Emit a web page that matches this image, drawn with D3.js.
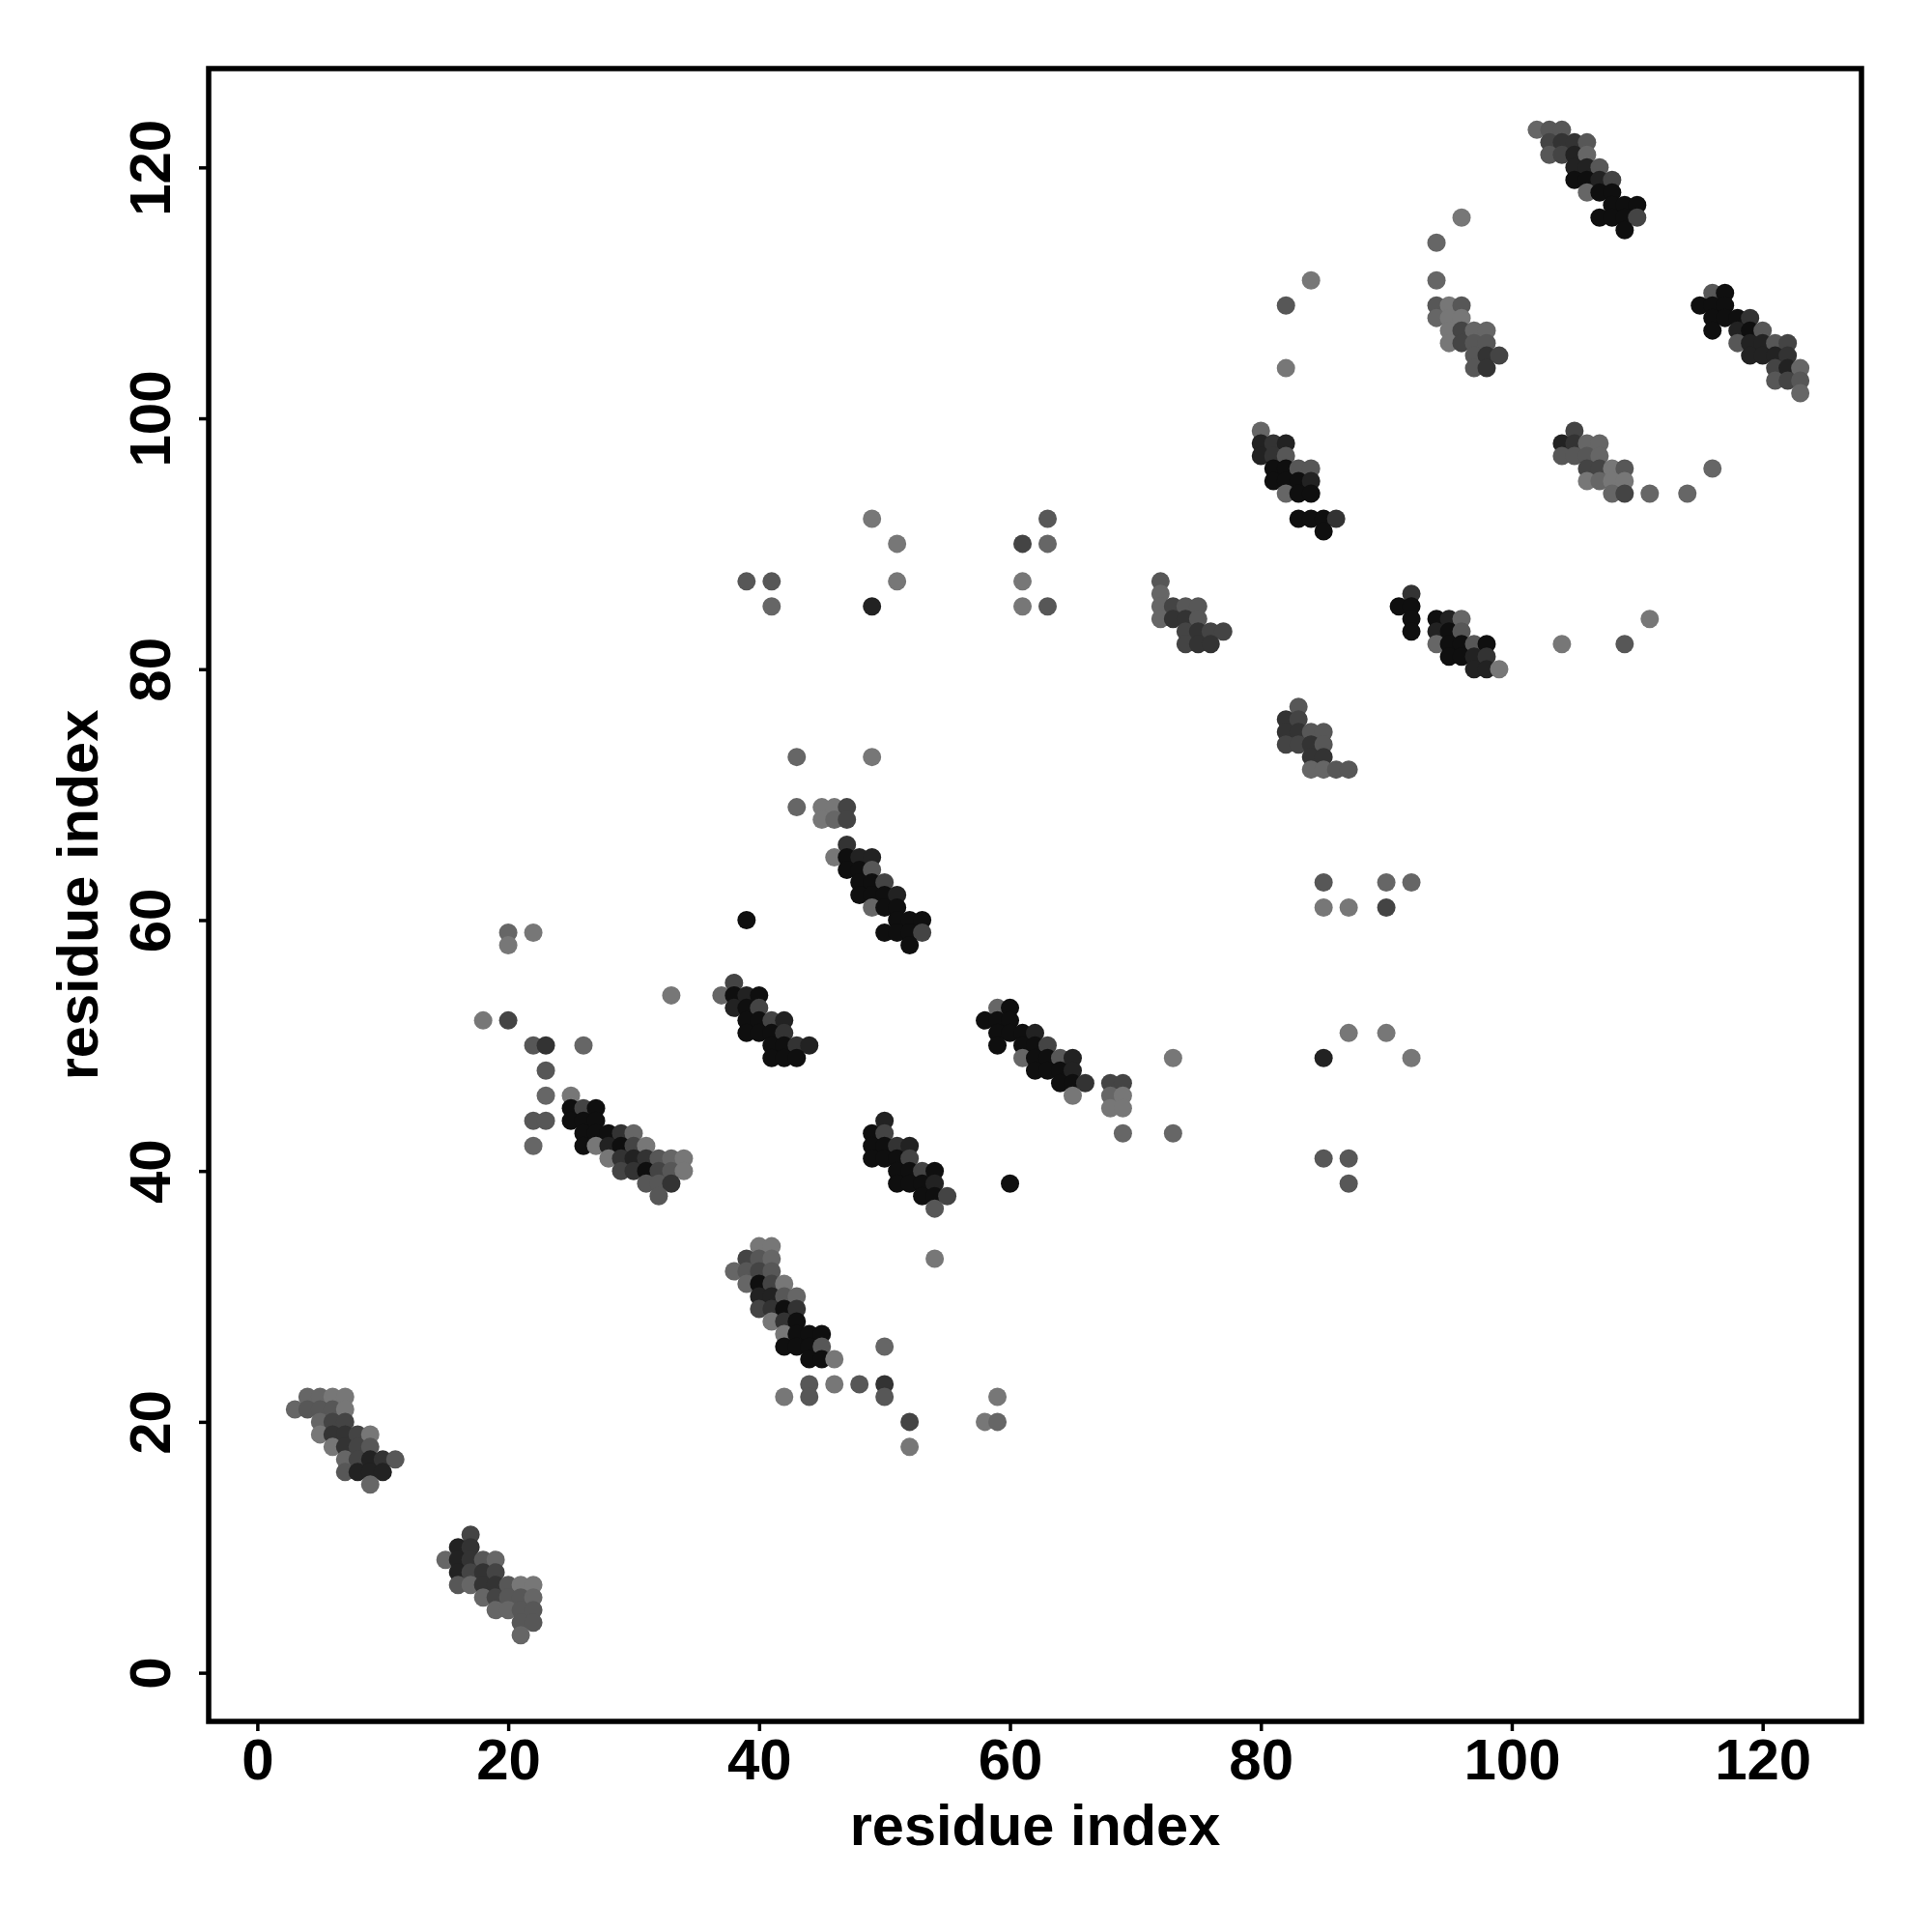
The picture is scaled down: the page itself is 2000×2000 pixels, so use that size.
<!DOCTYPE html>
<html>
<head>
<meta charset="utf-8">
<script src="https://cdn.jsdelivr.net/npm/d3@7"></script>
<style>
html,body{margin:0;padding:0;background:#fff;}
svg{display:block;}
</style>
</head>
<body>
<svg id="chart" width="2000" height="2000"></svg>
<script>
// Contact points: [residue i, residue j, shade level 0 (darkest) .. 6 (lightest)]
const clusterA = [[4,22,5],[5,22,5],[6,22,6],[7,22,6],[3,21,5],[4,21,4],[5,21,4],[6,21,4],[7,21,6],
 [5,20,5],[6,20,3],[7,20,3],[5,19,6],[6,19,2],[7,19,2],[8,19,3],[9,19,6],[6,18,6],[7,18,2],[8,18,3],[9,18,4],
 [7,17,5],[8,17,3],[9,17,1],[10,17,2],[11,17,4],[7,16,4],[8,16,1],[9,16,1],[10,16,1],[9,15,5]];
const clusterB = [[17,11,3],[16,10,1],[17,10,2],[15,9,5],[16,9,1],[17,9,2],[18,9,4],[19,9,5],
 [16,8,1],[17,8,3],[18,8,2],[19,8,3],[16,7,4],[17,7,5],[18,7,2],[19,7,2],[20,7,4],[21,7,6],[22,7,6],
 [18,6,5],[19,6,3],[20,6,4],[21,6,4],[22,6,5],[19,5,5],[20,5,5],[21,5,4],[22,5,4],[21,4,4],[22,4,4],[21,3,5]];
const clusterC = [[20,59,5],[20,58,6],[22,59,6],[33,54,6],[18,52,6],[20,52,3],[22,50,4],[23,50,2],[26,50,5],
 [23,48,4],[23,46,5],[25,46,6],[25,45,0],[26,45,3],[27,45,0],[22,44,4],[23,44,4],[25,44,0],[26,44,0],[27,44,0],
 [26,43,0],[27,43,0],[28,43,0],[29,43,2],[30,43,5],[22,42,5],[26,42,0],[27,42,6],[28,42,1],[29,42,0],[30,42,3],[31,42,6],
 [28,41,6],[29,41,2],[30,41,1],[31,41,2],[32,41,4],[33,41,5],[34,41,6],[29,40,3],[30,40,2],[31,40,0],[32,40,3],[33,40,4],[34,40,6],
 [31,39,4],[32,39,4],[33,39,2],[32,38,4]];
const clusterD = [[40,34,6],[41,34,6],[39,33,3],[40,33,4],[41,33,5],[54,33,6],[38,32,5],[39,32,4],[40,32,3],[41,32,4],
 [39,31,5],[40,31,0],[41,31,3],[42,31,6],[40,30,1],[41,30,1],[42,30,4],[43,30,5],[40,29,3],[41,29,2],[42,29,0],[43,29,2],
 [41,28,6],[42,28,2],[43,28,0],[42,27,6],[43,27,0],[44,27,0],[45,27,0],[42,26,0],[43,26,0],[44,26,0],[45,26,4],[50,26,5],
 [44,25,0],[45,25,0],[46,25,6],[44,23,4],[46,23,6],[48,23,4],[50,23,2],[42,22,6],[44,22,4],[50,22,4],[59,22,6],
 [52,20,3],[58,20,6],[59,20,5],[52,18,6]];
const clusterE = [[38,55,3],[37,54,5],[38,54,0],[39,54,1],[40,54,0],[38,53,1],[39,53,0],[40,53,3],
 [39,52,0],[40,52,0],[41,52,3],[42,52,1],[39,51,0],[40,51,0],[41,51,0],[42,51,2],[41,50,0],[42,50,0],[43,50,2],[44,50,1],
 [41,49,0],[42,49,0],[43,49,0]];
const clusterF = [[43,73,5],[49,73,6],[43,69,5],[45,69,6],[46,69,6],[47,69,3],[45,68,6],[46,68,5],[47,68,3],[47,66,2],
 [46,65,6],[47,65,0],[48,65,1],[49,65,1],[47,64,0],[48,64,0],[49,64,4],[48,63,0],[49,63,0],[50,63,3],
 [48,62,0],[49,62,0],[50,62,0],[51,62,1],[49,61,5],[50,61,0],[51,61,0],[39,60,0],[51,60,0],[52,60,0],[53,60,0],
 [50,59,0],[51,59,0],[52,59,0],[53,59,3],[52,58,0]];
const clusterG = [[50,44,1],[49,43,0],[50,43,3],[49,42,0],[50,42,0],[51,42,2],[52,42,1],[49,41,0],[50,41,0],[51,41,0],[52,41,3],
 [51,40,0],[52,40,0],[53,40,3],[54,40,0],[51,39,0],[52,39,0],[53,39,0],[54,39,1],[53,38,0],[54,38,0],[55,38,3],[54,37,4]];
const clusterH = [[59,53,5],[60,53,0],[58,52,0],[59,52,0],[60,52,0],[59,51,0],[60,51,0],[61,51,0],[62,51,1],
 [59,50,0],[61,50,0],[62,50,0],[63,50,3],[61,49,5],[62,49,0],[63,49,0],[64,49,4],[65,49,1],[73,49,6],
 [62,48,0],[63,48,0],[64,48,0],[65,48,1],[64,47,0],[65,47,0],[66,47,2],[68,47,3],[69,47,3],
 [65,46,6],[68,46,5],[69,46,6],[68,45,6],[69,45,6],[69,43,5],[73,43,5],[60,39,0]];
const clusterI = [[39,87,4],[41,87,4],[41,85,5],[49,92,6],[51,90,6],[51,87,6],[49,85,1],
 [63,92,4],[61,90,3],[63,90,5],[61,87,6],[61,85,6],[63,85,4]];
const clusterJ = [[72,87,4],[72,86,5],[72,85,5],[73,85,3],[74,85,4],[75,85,4],[72,84,5],[73,84,2],[74,84,2],[75,84,4],
 [74,83,3],[75,83,2],[76,83,3],[77,83,3],[74,82,3],[75,82,2],[76,82,2]];
const clusterK = [[96,116,6],[94,114,5],[84,111,6],[82,109,4],[82,104,6],[94,111,5],
 [94,109,4],[95,109,6],[96,109,4],[94,108,5],[95,108,6],[96,108,6],[95,107,6],[96,107,3],[97,107,5],[98,107,5],
 [95,106,6],[96,106,3],[97,106,4],[98,106,4],[97,105,4],[98,105,2],[99,105,3],[97,104,4],[98,104,2],
 [80,99,5],[80,98,1],[81,98,2],[82,98,1],[80,97,1],[81,97,2],[82,97,4],[81,96,0],[82,96,0],[83,96,4],[84,96,4],
 [81,95,0],[82,95,0],[83,95,0],[84,95,1],[82,94,5],[83,94,0],[84,94,0],[83,92,0],[84,92,0],[85,92,0],[86,92,2],[85,91,0]];
const clusterL = [[83,77,4],[82,76,2],[83,76,3],[82,75,2],[83,75,2],[84,75,4],[85,75,4],[82,74,3],[83,74,3],[84,74,2],[85,74,4],
 [84,73,2],[85,73,2],[84,72,5],[85,72,5],[86,72,4],[87,72,4],[85,63,4],[90,63,5],[92,63,5],[85,61,6],[87,61,6],[90,61,3],
 [87,51,6],[90,51,6],[85,49,1],[92,49,6],[85,41,4],[87,41,4],[87,39,4]];
const clusterM = [[92,86,2],[91,85,0],[92,85,0],[92,84,0],[94,84,0],[95,84,1],[96,84,5],[92,83,0],[94,83,1],[95,83,0],[96,83,4],
 [94,82,5],[95,82,0],[96,82,0],[97,82,4],[98,82,0],[95,81,0],[96,81,0],[97,81,1],[98,81,2],[97,80,1],[98,80,1],[99,80,6],
 [111,84,6],[104,82,6],[109,82,4]];
const clusterO = [[105,99,3],[104,98,1],[105,98,2],[106,98,5],[107,98,5],[104,97,4],[105,97,4],[106,97,4],[107,97,5],
 [106,96,3],[107,96,3],[108,96,6],[109,96,4],[106,95,6],[107,95,5],[108,95,6],[109,95,6],
 [108,94,5],[109,94,3],[111,94,5],[114,94,5],[116,96,5]];
const clusterP = [[102,123,5],[103,123,4],[104,123,4],[103,122,3],[104,122,2],[105,122,2],[106,122,4],
 [103,121,4],[104,121,3],[105,121,1],[106,121,5],[105,120,1],[106,120,1],[107,120,4],
 [105,119,0],[106,119,0],[107,119,1],[108,119,3],[106,118,5],[107,118,0],[108,118,0],
 [108,117,0],[109,117,0],[110,117,0],[107,116,0],[108,116,0],[109,116,0],[110,116,3],[109,115,0]];
const clusterQ = [[116,110,4],[117,110,0],[115,109,0],[116,109,0],[117,109,0],[116,108,0],[117,108,0],[118,108,0],[119,108,2],
 [116,107,0],[118,107,1],[119,107,0],[120,107,4],[118,106,4],[119,106,1],[120,106,1],[121,106,4],[122,106,3],
 [119,105,1],[120,105,1],[121,105,1],[122,105,2],[121,104,3],[122,104,1],[123,104,5],
 [121,103,4],[122,103,3],[123,103,4],[123,102,5]];

const shadeColors = ["#0f0f0f","#222222","#333333","#444444","#575757","#666666","#777777"];
const xTicks = [0,20,40,60,80,100,120];
const yTicks = [0,20,40,60,80,100,120];
const xLabel = "residue index";
const yLabel = "residue index";

(function draw() {
  const points = [].concat(clusterA, clusterB, clusterC, clusterD, clusterE, clusterF, clusterG,
    clusterH, clusterI, clusterJ, clusterK, clusterL, clusterM, clusterO, clusterP, clusterQ);

  const svg = d3.select("#chart");
  const pL = 216, pR = 1927, pT = 71, pB = 1782;
  const dom = [-3.88, 127.88];
  const x = d3.scaleLinear().domain(dom).range([pL, pR]);
  const y = d3.scaleLinear().domain(dom).range([pB, pT]);
  const color = d3.scaleOrdinal().domain(d3.range(shadeColors.length)).range(shadeColors);
  const font = "'Liberation Sans', Arial, Helvetica, sans-serif";

  svg.append("g").selectAll("circle").data(points).join("circle")
    .attr("cx", d => x(d[0])).attr("cy", d => y(d[1]))
    .attr("r", 9.5).attr("fill", d => color(d[2]));

  svg.append("rect").attr("x", pL).attr("y", pT)
    .attr("width", pR - pL).attr("height", pB - pT)
    .attr("fill", "none").attr("stroke", "#000").attr("stroke-width", 5.5);

  const xAxis = svg.append("g").attr("transform", `translate(0,${pB})`)
    .call(d3.axisBottom(x).tickValues(xTicks).tickSize(10).tickFormat(d3.format("d")));
  xAxis.select(".domain").remove();
  xAxis.selectAll(".tick line").attr("stroke", "#000").attr("stroke-width", 3.5);
  xAxis.selectAll(".tick text").attr("y", 60).attr("dy", null)
    .attr("font-family", font).attr("font-weight", "bold").attr("font-size", 60).attr("fill", "#000");

  const yAxis = svg.append("g").attr("transform", `translate(${pL},0)`)
    .call(d3.axisLeft(y).tickValues(yTicks).tickSize(10).tickFormat(d3.format("d")));
  yAxis.select(".domain").remove();
  yAxis.selectAll(".tick line").attr("stroke", "#000").attr("stroke-width", 3.5);
  yAxis.selectAll(".tick text")
    .attr("x", null).attr("dy", null)
    .attr("transform", "translate(-40,0) rotate(-90)")
    .attr("text-anchor", "middle")
    .attr("font-family", font).attr("font-weight", "bold").attr("font-size", 60).attr("fill", "#000");

  svg.append("text").attr("x", (pL + pR) / 2).attr("y", 1910)
    .attr("text-anchor", "middle").attr("font-family", font).attr("font-weight", "bold")
    .attr("font-size", 59.5).text(xLabel);
  svg.append("text").attr("transform", `translate(101,${(pT + pB) / 2}) rotate(-90)`)
    .attr("text-anchor", "middle").attr("font-family", font).attr("font-weight", "bold")
    .attr("font-size", 59.5).text(yLabel);
})();
</script>
</body>
</html>
